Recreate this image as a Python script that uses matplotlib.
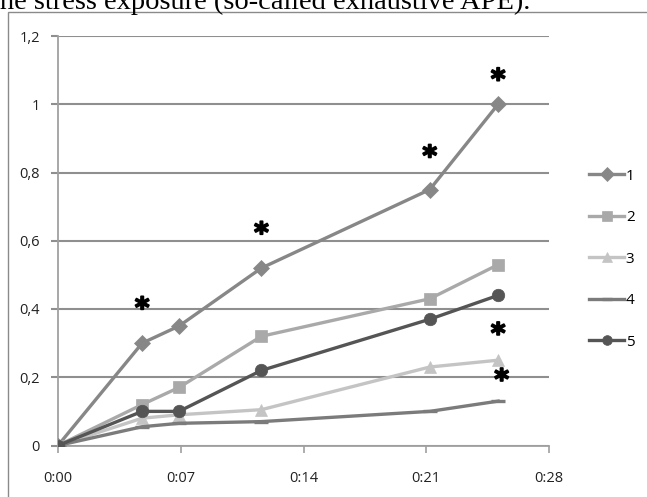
import matplotlib
matplotlib.use("Agg")
import matplotlib.pyplot as plt
import matplotlib.patheffects as pe
from matplotlib.patches import Rectangle
from matplotlib.ticker import FuncFormatter

# ===================== 数据 =====================
t_min = [0, 4.8, 6.9, 11.6, 21.2, 25.1]   # 时间（分钟）
s1 = [0, 0.30, 0.35, 0.52, 0.75, 1.00]
s2 = [0, 0.12, 0.17, 0.32, 0.43, 0.53]
s3 = [0, 0.08, 0.09, 0.105, 0.23, 0.25]
s4 = [0, 0.055, 0.065, 0.07, 0.10, 0.13]
s5 = [0, 0.10, 0.10, 0.22, 0.37, 0.44]
series_names = ['1', '2', '3', '4', '5']

# 星号标记（显著性）位置
star_x = [4.8, 11.6, 21.2, 25.1, 25.1, 25.3]
star_y = [0.40, 0.62, 0.845, 1.07, 0.325, 0.19]

x_ticks = [0, 7, 14, 21, 28]
y_ticks = [0, 0.2, 0.4, 0.6, 0.8, 1.0, 1.2]

# ===================== 样式 =====================
colors = ['#878787', '#a9a9a9', '#c4c4c4', '#7b7b7b', '#555555']
markers = ['D', 's', '^', '_', 'o']
msizes = [8, 8.5, 9, 10, 9]
grid_c = '#8f8f8f'
font_tick = 'Open Sans'

fig = plt.figure(figsize=(6.47, 4.97), dpi=100)

# 外框
fig.patches.append(Rectangle((8 / 647, -0.1), 1.0, 1 - 12 / 497 + 0.1,
                             transform=fig.transFigure, fill=False,
                             edgecolor='#8a8a8a', linewidth=1.0))

# 顶部残留的正文
fig.text(-0.013, 1 - 9 / 497, 'the stress exposure (so-called exhaustive APE).',
         family='Liberation Serif', fontsize=20.5, va='baseline', ha='left')

ax = fig.add_axes([58 / 647, 51.5 / 497, 491 / 647, 409.5 / 497])

data = [s1, s2, s3, s4, s5]
for i, ys in enumerate(data):
    ax.plot(t_min, ys, color=colors[i], linewidth=2.4, marker=markers[i],
            markersize=msizes[i], markeredgewidth=2.4 if markers[i] == '_' else 0.5,
            markeredgecolor=colors[i], label=series_names[i], zorder=3 + (i == 4))

for sx, sy in zip(star_x, star_y):
    ax.text(sx, sy, '*', ha='center', va='center', fontsize=20,
            fontweight='bold', family='DejaVu Sans', color='black', zorder=6,
            path_effects=[pe.withStroke(linewidth=1.3, foreground='black')])

ax.set_xlim(0, 28)
ax.set_ylim(0, 1.2)
ax.set_xticks(x_ticks)
ax.set_yticks(y_ticks)
ax.xaxis.set_major_formatter(FuncFormatter(lambda v, p: f'0:{int(v):02d}'))
ax.yaxis.set_major_formatter(FuncFormatter(
    lambda v, p: ('%g' % round(v, 1)).replace('.', ',')))

for lab in ax.get_xticklabels() + ax.get_yticklabels():
    lab.set_family(font_tick)
    lab.set_fontsize(10.5)
    lab.set_color('#222222')

ax.yaxis.grid(True, color=grid_c, linewidth=1.5)
ax.set_axisbelow(True)
for side in ['top', 'right']:
    ax.spines[side].set_visible(False)
for side in ['left', 'bottom']:
    ax.spines[side].set_color('#a0a0a0')
    ax.spines[side].set_linewidth(1.3)
ax.tick_params(axis='x', length=5, width=1.2, color='#a0a0a0', pad=13)
ax.tick_params(axis='y', length=5, width=1.5, color=grid_c, pad=8)

leg = ax.legend(loc='center left', bbox_to_anchor=(1.06, 0.455), frameon=False,
                handlelength=2.3, labelspacing=1.74, handletextpad=0.1,
                borderaxespad=0.3, prop={'family': font_tick, 'size': 11})
for h in leg.legend_handles:
    h.set_markersize(7)

fig.savefig('out.png', dpi=100)
